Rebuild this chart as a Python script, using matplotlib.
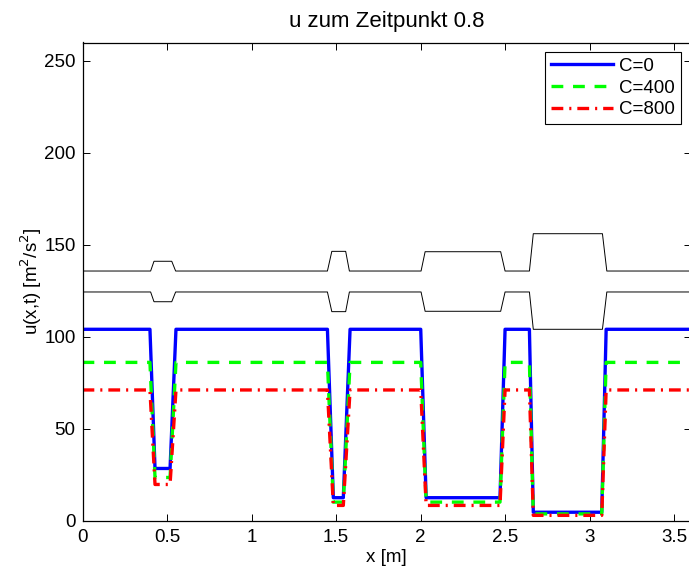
import matplotlib
matplotlib.use("Agg")
import matplotlib.pyplot as plt

plt.rcParams['font.family'] = ['Liberation Sans', 'DejaVu Sans']
plt.rcParams['lines.scale_dashes'] = False

# Profile breakpoints along the channel [m]
x_pts = [0.0, 0.399, 0.429, 0.518, 0.553, 1.449, 1.484, 1.543, 1.583,
         2.001, 2.033, 2.470, 2.500, 2.644, 2.667, 3.072, 3.098, 3.6]

# u(x, t=0.8) for the three values of C
u_c0 = [104, 104, 28.3, 28.3, 104, 104, 12.4, 12.4, 104,
        104, 12.4, 12.4, 104, 104, 4.5, 4.5, 104, 104]
u_c400 = [86, 86, 23.4, 23.4, 86, 86, 10, 10, 86,
          86, 10, 10, 86, 86, 3.6, 3.6, 86, 86]
u_c800 = [71, 71, 19.6, 19.6, 71, 71, 8.2, 8.2, 71,
          71, 8.2, 8.2, 71, 71, 2.8, 2.8, 71, 71]

# Channel wall outline
wall_x = [0.0, 0.403, 0.423, 0.528, 0.551, 1.449, 1.475, 1.557, 1.579,
          2.003, 2.027, 2.474, 2.500, 2.644, 2.667, 3.076, 3.102, 3.6]
wall_top = [135.7, 135.7, 141.0, 141.0, 135.7, 135.7, 146.4, 146.4, 135.7,
            135.7, 146.2, 146.2, 135.7, 135.7, 156.0, 156.0, 135.7, 135.7]
wall_bottom = [124.3, 124.3, 119.0, 119.0, 124.3, 124.3, 113.6, 113.6, 124.3,
               124.3, 113.8, 113.8, 124.3, 124.3, 104.0, 104.0, 124.3, 124.3]

series_labels = ['C=0', 'C=400', 'C=800']
x_ticks = [0, 0.5, 1, 1.5, 2, 2.5, 3, 3.5]
x_tick_labels = ['0', '0.5', '1', '1.5', '2', '2.5', '3', '3.5']
y_ticks = [0, 50, 100, 150, 200, 250]

W, H = 689, 571
fig = plt.figure(figsize=(W / 100, H / 100), dpi=100)
ax = fig.add_axes([82.5 / W, (H - 520.5) / H, (691 - 82.5) / W, (520.5 - 42.5) / H])

ax.plot(wall_x, wall_top, color='k', lw=0.7)
ax.plot(wall_x, wall_bottom, color='k', lw=0.7)

ax.plot(x_pts, u_c0, color=(0, 0, 1), lw=2.4, label=series_labels[0])
ax.plot(x_pts, u_c400, color=(0, 1, 0), lw=2.4, label=series_labels[1],
        dashes=(8.5, 7.0))
ax.plot(x_pts, u_c800, color=(1, 0, 0), lw=2.4, label=series_labels[2],
        dashes=(8.5, 4.3, 1.5, 4.3))

ax.set_xlim(0, 3.6)
ax.set_ylim(0, 260)
ax.set_xticks(x_ticks)
ax.set_xticklabels(x_tick_labels)
ax.set_yticks(y_ticks)

ax.tick_params(direction='in', length=5, width=0.7, labelsize=13.5,
               top=True, right=True, colors='k')
ax.tick_params(axis='x', pad=6)
ax.tick_params(axis='y', pad=5)
for sp in ax.spines.values():
    sp.set_linewidth(0.9)

ax.set_xlabel('x [m]', fontsize=13.5, labelpad=2)
ax.set_ylabel(r'u(x,t) [m$^2$/s$^2$]', fontsize=13.5, labelpad=0)
ax.set_title('u zum Zeitpunkt 0.8', fontsize=16, pad=11)

leg = ax.legend(loc='upper right', fontsize=13.5, frameon=True, fancybox=False,
                edgecolor='k', framealpha=1, handlelength=3.3,
                bbox_to_anchor=(0.983, 0.98),
                borderaxespad=0.0, borderpad=0.3, labelspacing=0.25,
                handletextpad=0.35)
leg.get_frame().set_linewidth(0.8)

fig.savefig('out.png', dpi=100)
